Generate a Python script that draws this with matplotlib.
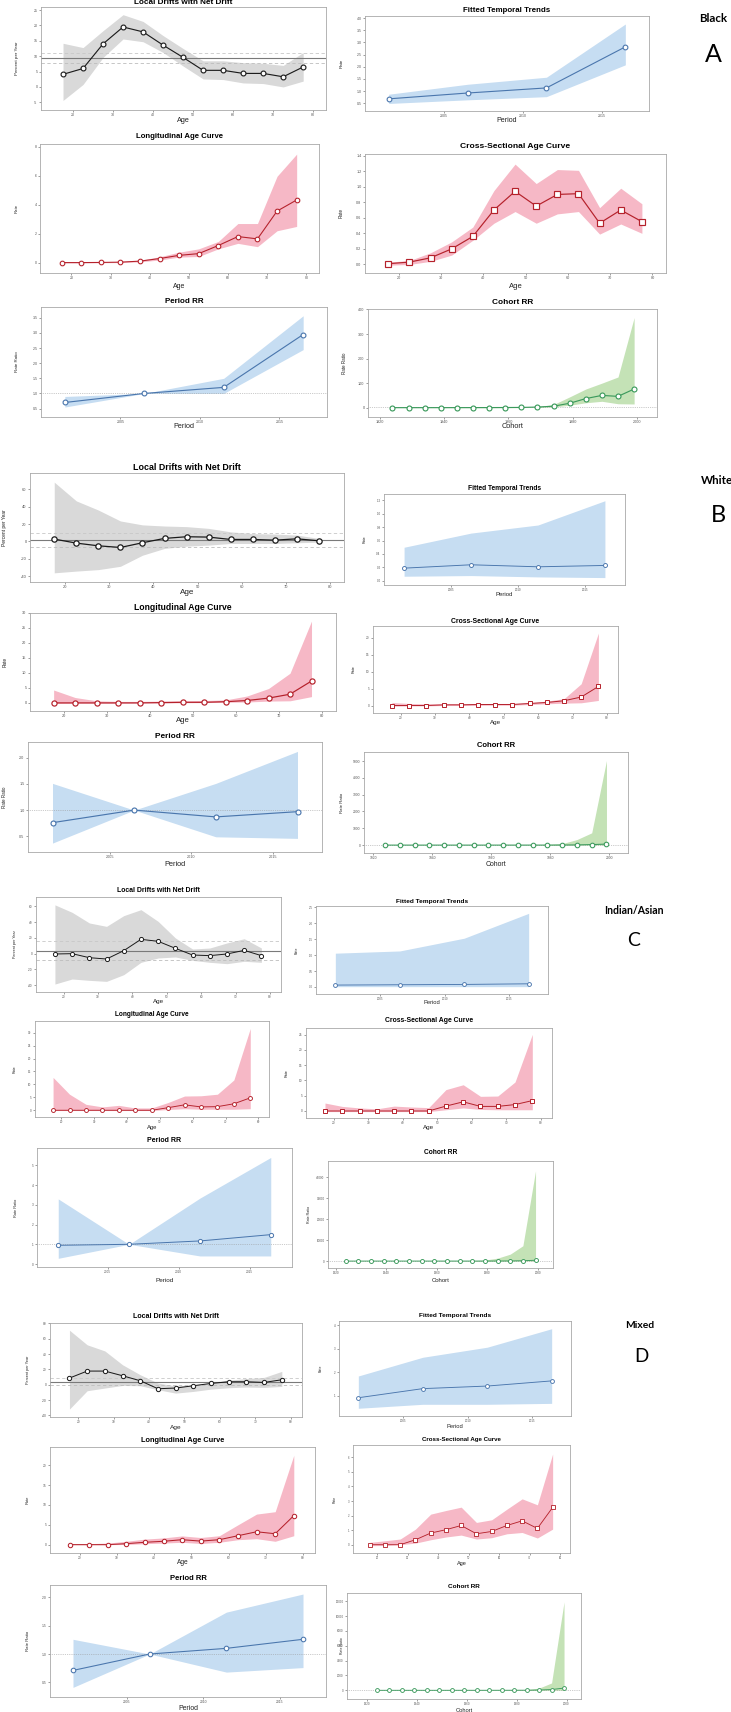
import matplotlib
matplotlib.use("Agg")
import matplotlib.pyplot as plt

W, H = 731, 1712

ages = [17.5, 22.5, 27.5, 32.5, 37.5, 42.5, 47.5, 52.5, 57.5, 62.5, 67.5, 72.5, 77.5]
periods = [2001.5, 2006.5, 2011.5, 2016.5]
cohorts = [1924, 1929, 1934, 1939, 1944, 1949, 1954, 1959,
           1964, 1969, 1974, 1979, 1984, 1989, 1994, 1999]

# ---- Black (A) ----
black_drift = [4.1, 6.0, 14.0, 19.5, 17.9, 13.6, 9.6, 5.4, 5.4, 4.4, 4.4, 3.3, 6.5]
black_drift_lo = [-4.4, 0.8, 9.6, 15.6, 14.7, 11.2, 6.8, 2.6, 2.4, 1.3, 1.1, 0.0, 1.9]
black_drift_hi = [14.2, 12.8, 18.3, 23.5, 21.3, 16.7, 12.5, 8.5, 8.5, 7.9, 7.7, 7.0, 11.2]
black_net = [9.45, 7.9, 11.2]
black_trend = [0.68, 0.92, 1.13, 2.82]
black_trend_lo = [0.49, 0.64, 0.77, 2.08]
black_trend_hi = [0.87, 1.28, 1.57, 3.76]
black_long = [0.0, 0.0, 0.01, 0.03, 0.1, 0.28, 0.5, 0.62, 1.18, 1.8, 1.64, 3.56, 4.33]
black_long_lo = [-0.02, -0.02, -0.01, 0.0, 0.05, 0.18, 0.38, 0.42, 0.95, 1.33, 1.1, 2.2, 2.5]
black_long_hi = [0.03, 0.03, 0.04, 0.07, 0.16, 0.4, 0.72, 0.95, 1.46, 2.7, 2.7, 5.97, 7.5]
black_cross = [0.01, 0.03, 0.085, 0.2, 0.36, 0.7, 0.94, 0.75, 0.9, 0.91, 0.53, 0.7, 0.55]
black_cross_lo = [-0.01, 0.0, 0.04, 0.12, 0.31, 0.53, 0.68, 0.53, 0.65, 0.68, 0.39, 0.52, 0.40]
black_cross_hi = [0.03, 0.05, 0.15, 0.29, 0.48, 0.95, 1.29, 1.04, 1.22, 1.21, 0.73, 0.98, 0.78]
black_prr = [0.7, 1.0, 1.2, 2.95]
black_prr_lo = [0.55, 1.0, 1.0, 2.45]
black_prr_hi = [0.9, 1.0, 1.5, 3.57]
black_crr = [0.05, 0.07, 0.1, 0.15, 0.2, 0.3, 0.4, 0.6, 1.0, 2.5, 6, 18, 37, 50, 46, 76]
black_crr_lo = [0, 0, 0, 0, 0, 0, 0.1, 0.2, 0.4, 1.2, 3, 10, 20, 26, 16, 15]
black_crr_hi = [0.1, 0.15, 0.2, 0.3, 0.4, 0.6, 0.8, 1.2, 2, 4, 13, 44, 76, 100, 125, 367]

# ---- White (B) ----
white_drift = [2.7, -1.9, -5.0, -6.9, -1.5, 3.5, 5.4, 5.0, 2.3, 2.3, 1.5, 3.0, 0.8]
white_drift_lo = [-36, -34, -32.3, -28.5, -15.8, -8, -5.4, -4.2, -2.3, -2.3, -2.3, -1.5, -0.8]
white_drift_hi = [68, 46.5, 36, 23.5, 19, 17.7, 17, 15, 11, 9, 8.5, 7.3, 3.5]
white_net = [1.2, -6.5, 9.2]
white_trend = [0.19, 0.24, 0.21, 0.23]
white_trend_lo = [0.07, 0.08, 0.06, 0.05]
white_trend_hi = [0.5, 0.71, 0.83, 1.19]
white_long = [0, 0, 0, 0, 0, 0.1, 0.2, 0.2, 0.4, 0.8, 1.6, 2.9, 7.3]
white_long_lo = [-0.2, -0.1, -0.1, -0.1, 0, 0, 0.05, 0.1, 0.2, 0.3, 0.6, 0.7, 2.1]
white_long_hi = [4.3, 1.8, 0.7, 0.5, 0.5, 0.6, 0.7, 0.8, 1.0, 2.3, 4.8, 9.9, 27.3]
white_cross = [0, 0, 0, 0.2, 0.2, 0.3, 0.3, 0.3, 0.6, 0.9, 1.4, 2.5, 5.6]
white_cross_lo = [-0.2, -0.1, -0.1, 0, 0, 0.05, 0.1, 0.1, 0.3, 0.5, 0.7, 0.8, 1.5]
white_cross_hi = [0.9, 0.6, 0.5, 0.5, 0.5, 0.55, 0.6, 0.6, 0.8, 1.3, 2.0, 6.4, 21.3]
white_prr = [0.76, 1.0, 0.87, 0.97]
white_prr_lo = [0.37, 1.0, 0.49, 0.46]
white_prr_hi = [1.51, 1.0, 1.51, 2.12]
white_crr = [0.01, 0.01, 0.02, 0.03, 0.05, 0.08, 0.1, 0.2, 0.3, 0.5, 1, 2, 5, 12, 30, 60]
white_crr_lo = [0, 0, 0, 0, 0, 0, 0, 0, 0, 0.1, 0.2, 0.4, 1, 2, 4, 5]
white_crr_hi = [0.05, 0.1, 0.1, 0.2, 0.3, 0.5, 0.8, 1.2, 2, 4, 10, 30, 90, 330, 730, 5030]

# ---- Indian/Asian (C) ----
asian_drift = [-0.4, 0.0, -5.1, -6.8, 3.8, 18.2, 15.7, 6.8, -1.7, -2.5, -0.4, 4.2, -2.5]
asian_drift_lo = [-38.6, -32.2, -33.9, -35.2, -26.7, -11, -5.5, -4.2, -8.5, -11, -12.7, -9.7, -11]
asian_drift_hi = [62, 52.5, 39, 34.7, 48.3, 55.9, 41, 20, 5.9, 7.2, 13.6, 19, 7.2]
asian_net = [3.4, -8.0, 15.7]
asian_trend = [0.06, 0.07, 0.08, 0.1]
asian_trend_lo = [0.01, 0.01, 0.01, 0.01]
asian_trend_hi = [1.06, 1.13, 1.53, 2.31]
asian_long = [0, 0, 0, 0, 0, 0, 0, 1.0, 2.1, 1.3, 1.4, 2.5, 4.8]
asian_long_lo = [-0.1, -0.1, -0.1, -0.1, -0.1, -0.1, -0.1, 0.3, 0.6, 0.4, 0.4, 0.4, 0.6]
asian_long_hi = [12.7, 6.2, 2.3, 1.3, 1.9, 0.9, 0.9, 3.0, 5.5, 5.6, 6.2, 11.7, 31.6]
asian_cross = [0, 0, 0, 0, 0, 0, 0, 1.6, 3.0, 1.5, 1.5, 2.1, 3.4]
asian_cross_lo = [-0.2, -0.2, -0.2, -0.2, -0.2, -0.2, -0.2, 0.4, 1.0, 0.5, 0.4, 0.4, 0.4]
asian_cross_hi = [2.6, 1.5, 1.0, 0.7, 1.6, 1.3, 1.1, 7.0, 8.6, 4.8, 4.9, 9.5, 25.1]
asian_prr = [0.95, 1.0, 1.17, 1.49]
asian_prr_lo = [0.29, 1.0, 0.41, 0.41]
asian_prr_hi = [3.3, 1.0, 3.34, 5.4]
asian_crr = [0.5, 0.6, 0.7, 0.8, 1, 1.2, 1.5, 2, 3, 5, 8, 15, 30, 60, 150, 400]
asian_crr_lo = [0, 0, 0, 0, 0, 0, 0, 0, 0, 0, 0, 0, 0, 0, 0, 0]
asian_crr_hi = [2, 3, 4, 5, 8, 10, 15, 20, 40, 80, 150, 500, 1400, 3300, 7300, 43000]

# ---- Mixed (D) ----
mixed_drift = [8.7, 17.8, 17.8, 11.7, 5.2, -5.2, -4.3, -1.3, 1.7, 3.9, 3.9, 3.0, 6.5]
mixed_drift_lo = [-31.7, -7.8, -4.3, -0.9, -1.3, -6.5, -10.9, -8.7, -5.7, -3.9, -3.0, -3.5, -2.2]
mixed_drift_hi = [71, 52, 44, 26, 13, 2.2, -1.5, 0, 3, 6, 8, 9.6, 17.4]
mixed_net = [3.9, -0.4, 8.3]
mixed_trend = [0.91, 1.3, 1.41, 1.63]
mixed_trend_lo = [0.46, 0.63, 0.63, 0.67]
mixed_trend_hi = [1.84, 2.64, 3.07, 3.86]
mixed_long = [0, 0, 0, 0.25, 0.6, 0.85, 1.25, 0.9, 1.25, 2.25, 3.25, 2.75, 7.3]
mixed_long_lo = [0, 0, 0, 0.05, 0.25, 0.4, 0.6, 0.3, 0.6, 1.25, 1.5, 0.85, 2.25]
mixed_long_hi = [0.25, 0.25, 0.4, 0.85, 1.4, 1.7, 2.2, 1.8, 2.25, 5.0, 7.7, 8.3, 22.5]
mixed_cross = [0, 0, 0, 0.34, 0.8, 1.03, 1.32, 0.75, 0.91, 1.32, 1.64, 1.12, 2.56]
mixed_cross_lo = [-0.07, -0.05, 0, 0.11, 0.34, 0.53, 0.66, 0.39, 0.48, 0.75, 0.84, 0.46, 1.07]
mixed_cross_hi = [0.16, 0.27, 0.39, 1.07, 2.1, 2.35, 2.58, 1.53, 1.71, 2.44, 3.15, 2.74, 6.23]
mixed_prr = [0.71, 1.0, 1.1, 1.26]
mixed_prr_lo = [0.41, 1.0, 0.68, 0.76]
mixed_prr_hi = [1.26, 1.0, 1.74, 2.06]
mixed_crr = [0.2, 0.3, 0.4, 0.5, 0.6, 0.8, 1, 1.5, 2, 3, 5, 8, 15, 40, 100, 300]
mixed_crr_lo = [0, 0, 0, 0, 0, 0, 0, 0, 0, 0, 0, 0, 0, 0, 0, 0]
mixed_crr_hi = [1, 1, 2, 3, 4, 5, 6, 8, 10, 15, 20, 40, 80, 300, 990, 11900]

KINDS = {
    "drift": ("Local Drifts with Net Drift", "Age", "Percent per Year", "#d9d9d9", "#1a1a1a", "o"),
    "trend": ("Fitted Temporal Trends", "Period", "Rate", "#c6ddf2", "#4a76ad", "o"),
    "long": ("Longitudinal Age Curve", "Age", "Rate", "#f6b8c6", "#b5212b", "o"),
    "cross": ("Cross-Sectional Age Curve", "Age", "Rate", "#f6b8c6", "#b5212b", "s"),
    "prr": ("Period RR", "Period", "Rate Ratio", "#c6ddf2", "#4a76ad", "o"),
    "crr": ("Cohort RR", "Cohort", "Rate Ratio", "#c4e2b6", "#3b9a5c", "o"),
}

plt.rcParams["font.family"] = ["Liberation Sans", "DejaVu Sans"]
fig = plt.figure(figsize=(W / 100, H / 100), dpi=100)
renderer = fig.canvas.get_renderer()


def fit_size(text, width_px):
    w = text.get_window_extent(renderer).width
    return text.get_fontsize() * width_px / w


def panel(kind, box, title_w, title_y, xlab_y, ylab_x, x, y, lo, hi,
          ylim, yticks, xlim=None, net=None):
    title, xlabel, ylabel, band, line, marker = KINDS[kind]
    l, t, r, b = box
    ax = fig.add_axes([l / W, 1 - b / H, (r - l) / W, (b - t) / H])

    tt = ax.set_title(title, fontsize=10, fontweight="bold", pad=0,
                      y=(b - title_y) / (b - t), va="center")
    ts = fit_size(tt, title_w)
    tt.set_fontsize(ts)

    ax.fill_between(x, lo, hi, color=band, lw=0, zorder=1)
    if net is not None:
        ax.axhline(net[0], color="#7a7a7a", lw=0.8, zorder=2)
        ax.axhline(net[1], color="#bdbdbd", lw=0.6, ls=(0, (4, 3)), zorder=2)
        ax.axhline(net[2], color="#c8c8c8", lw=0.6, ls=(0, (4, 3)), zorder=2)
    if kind in ("prr", "crr"):
        ax.axhline(1, color="#9a9a9a", lw=0.5, ls=":", zorder=2)
    ax.plot(x, y, color=line, lw=0.14 * ts, marker=marker, ms=0.6 * ts,
            mfc="white", mec=line, mew=0.14 * ts, zorder=3)

    if xlim is None:
        xlim = (12, 83.2) if xlabel == "Age" else (2000, 2018)
    ax.set_xlim(*xlim)
    ax.set_ylim(*ylim)
    if xlabel == "Age":
        ax.set_xticks([20, 30, 40, 50, 60, 70, 80])
    elif xlabel == "Period":
        ax.set_xticks([2005, 2010, 2015])
    else:
        ax.set_xticks([1920, 1940, 1960, 1980, 2000])
    ax.set_yticks(yticks)
    if all(float(v).is_integer() for v in yticks):
        ax.set_yticklabels([str(int(v)) for v in yticks])
    else:
        ax.set_yticklabels([f"{v:.1f}" for v in yticks])

    ax.tick_params(labelsize=0.45 * ts, length=1.5, width=0.4, pad=1,
                   colors="#555555", direction="out")
    for s in ax.spines.values():
        s.set_color("#a8a8a8")
        s.set_linewidth(0.6)

    ax.set_xlabel(xlabel, fontsize=0.9 * ts, va="center", color="#222222")
    ax.xaxis.set_label_coords(0.5, (b - xlab_y) / (b - t))
    ax.set_ylabel(ylabel, fontsize=0.55 * ts, va="center", ha="center", color="#222222")
    ax.yaxis.set_label_coords((ylab_x - l) / (r - l), 0.5)
    return ax


def group_label(name, name_xy, name_w, letter, letter_xy, letter_size):
    nt = fig.text(name_xy[0] / W, 1 - name_xy[1] / H, name, fontsize=10,
                  fontweight="bold", family=["Lato", "DejaVu Sans"],
                  ha="center", va="center")
    nt.set_fontsize(fit_size(nt, name_w))
    fig.text(letter_xy[0] / W, 1 - letter_xy[1] / H, letter, fontsize=letter_size,
             family=["Lato", "DejaVu Sans"], ha="center", va="center")


# ---- A: Black ----
panel("drift", (41, 7, 326, 110), 97, 3, 121, 17, ages, black_drift, black_drift_lo,
      black_drift_hi, (-7.5, 26), [-5, 0, 5, 10, 15, 20, 25], net=black_net)
panel("trend", (365, 16, 649, 111), 87, 10, 121, 342, periods, black_trend, black_trend_lo,
      black_trend_hi, (0.18, 4.09), [0.5, 1.0, 1.5, 2.0, 2.5, 3.0, 3.5, 4.0])
panel("long", (40, 144, 319, 273), 87, 136, 286, 17, ages, black_long, black_long_lo,
      black_long_hi, (-0.72, 8.2), [0, 2, 4, 6, 8])
panel("cross", (365, 154, 666, 273), 109, 146, 286, 341, ages, black_cross, black_cross_lo,
      black_cross_hi, (-0.11, 1.42), [0.0, 0.2, 0.4, 0.6, 0.8, 1.0, 1.2, 1.4])
panel("prr", (41, 307, 327, 417), 39, 301, 427, 17, periods, black_prr, black_prr_lo,
      black_prr_hi, (0.22, 3.86), [0.5, 1.0, 1.5, 2.0, 2.5, 3.0, 3.5])
panel("crr", (368, 309, 657, 417), 41, 302, 427, 345, cohorts, black_crr, black_crr_lo,
      black_crr_hi, (-38, 402), [0, 100, 200, 300, 400], xlim=(1916.4, 2006.1))
group_label("Black", (713, 18), 28, "A", (713, 54), 18)

# ---- B: White ----
panel("drift", (30, 473, 344, 582), 106, 467, 593, 5, ages, white_drift, white_drift_lo,
      white_drift_hi, (-46.5, 78.5), [-40, -20, 0, 20, 40, 60], net=white_net)
panel("trend", (384, 494, 625, 585), 73, 488, 594, 365, periods, white_trend, white_trend_lo,
      white_trend_hi, (-0.06, 1.29), [0.0, 0.2, 0.4, 0.6, 0.8, 1.0, 1.2])
panel("long", (30, 613, 336, 711), 97, 607, 721, 5, ages, white_long, white_long_lo,
      white_long_hi, (-2.7, 29.9), [0, 5, 10, 15, 20, 25, 30])
panel("cross", (373, 626, 618, 713), 89, 621, 722, 354, ages, white_cross, white_cross_lo,
      white_cross_hi, (-2.2, 23.4), [0, 5, 10, 15, 20])
panel("prr", (28, 742, 322, 852), 40, 736, 864, 5, periods, white_prr, white_prr_lo,
      white_prr_hi, (0.2, 2.3), [0.5, 1.0, 1.5, 2.0])
panel("crr", (364, 752, 628, 853), 38, 745, 864, 342, cohorts, white_crr, white_crr_lo,
      white_crr_hi, (-470, 5540), [0, 1000, 2000, 3000, 4000, 5000], xlim=(1916.8, 2006.3))
group_label("White", (717, 480), 32, "B", (718, 515), 17)

# ---- C: Indian/Asian ----
panel("drift", (36, 897, 281, 992), 83, 891, 1002, 15, ages, asian_drift, asian_drift_lo,
      asian_drift_hi, (-48.7, 72), [-40, -20, 0, 20, 40, 60], net=asian_net)
panel("trend", (316, 906, 548, 994), 71, 901, 1003, 297, periods, asian_trend, asian_trend_lo,
      asian_trend_hi, (-0.22, 2.54), [0.0, 0.5, 1.0, 1.5, 2.0, 2.5])
panel("long", (35, 1021, 269, 1117), 74, 1015, 1127, 15, ages, asian_long, asian_long_lo,
      asian_long_hi, (-2.6, 34.5), [0, 5, 10, 15, 20, 25, 30])
panel("cross", (306, 1028, 552, 1118), 89, 1021, 1127, 287, ages, asian_cross, asian_cross_lo,
      asian_cross_hi, (-2.3, 27.2), [0, 5, 10, 15, 20, 25])
panel("prr", (37, 1148, 292, 1267), 34, 1141, 1281, 16, periods, asian_prr, asian_prr_lo,
      asian_prr_hi, (-0.15, 5.88), [0, 1, 2, 3, 4, 5])
panel("crr", (328, 1161, 553, 1268), 33, 1153, 1281, 309, cohorts, asian_crr, asian_crr_lo,
      asian_crr_hi, (-3300, 47700), [0, 10000, 20000, 30000, 40000], xlim=(1917, 2005.9))
group_label("Indian/Asian", (634, 911), 60, "C", (634, 940), 14)

# ---- D: Mixed ----
panel("drift", (50, 1323, 302, 1417), 86, 1317, 1427, 28, ages, mixed_drift, mixed_drift_lo,
      mixed_drift_hi, (-42, 80.4), [-40, -20, 0, 20, 40, 60, 80], net=mixed_net)
panel("trend", (339, 1321, 571, 1416), 71, 1315, 1426, 321, periods, mixed_trend, mixed_trend_lo,
      mixed_trend_hi, (0.13, 4.19), [1, 2, 3, 4])
panel("long", (50, 1447, 315, 1553), 83, 1440, 1563, 28, ages, mixed_long, mixed_long_lo,
      mixed_long_hi, (-2.1, 24.6), [0, 5, 10, 15, 20])
panel("cross", (353, 1445, 570, 1553), 79, 1439, 1564, 335, ages, mixed_cross, mixed_cross_lo,
      mixed_cross_hi, (-0.57, 6.85), [0, 1, 2, 3, 4, 5, 6])
panel("prr", (50, 1585, 326, 1697), 37, 1578, 1708, 28, periods, mixed_prr, mixed_prr_lo,
      mixed_prr_hi, (0.24, 2.22), [0.5, 1.0, 1.5, 2.0])
panel("crr", (347, 1593, 581, 1699), 32, 1587, 1710, 342, cohorts, mixed_crr, mixed_crr_lo,
      mixed_crr_hi, (-1170, 13100), [0, 2000, 4000, 6000, 8000, 10000, 12000],
      xlim=(1912, 2005.8))
group_label("Mixed", (640, 1326), 29, "D", (641, 1356), 13.5)

fig.savefig("out.png", dpi=100)
